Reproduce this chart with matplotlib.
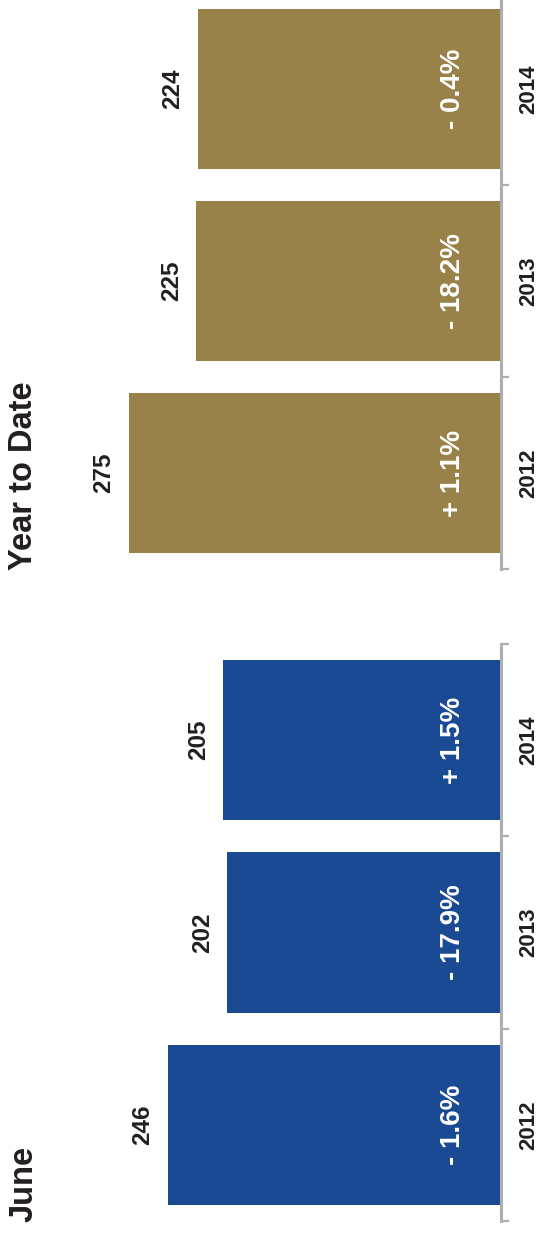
import matplotlib
matplotlib.use('Agg')
import matplotlib.pyplot as plt

# chart data
years = ['2012', '2013', '2014']
june_values = [246, 202, 205]
june_changes = ['- 1.6%', '- 17.9%', '+ 1.5%']
ytd_values = [275, 225, 224]
ytd_changes = ['+ 1.1%', '- 18.2%', '- 0.4%']

BLUE = '#1b4a94'
GOLD = '#98824a'
GRAY = '#aeaeb0'
TEXT = '#231f20'

plt.rcParams['font.family'] = ['Liberation Sans', 'DejaVu Sans']

W, H = 539, 1241
fig = plt.figure(figsize=(W / 100, H / 100), dpi=100)


def panel(bottom_px, top_px, values, changes, color, title):
    # axes placed in pixel units, spine (baseline) at x = 500.7 px
    ax = fig.add_axes([0.0, (H - bottom_px) / H, 500.7 / W, (bottom_px - top_px) / H])
    pos = list(range(len(values)))
    ax.barh(pos, values, height=0.833, color=color)
    ax.set_xlim(370, 0)
    ax.set_ylim(-0.5, len(values) - 0.5)
    for s in ['left', 'top', 'bottom']:
        ax.spines[s].set_visible(False)
    ax.spines['right'].set_color(GRAY)
    ax.spines['right'].set_linewidth(2.2)
    ax.set_xticks([])
    ax.yaxis.tick_right()
    ax.set_yticks([p - 0.5 for p in pos] + [len(values) - 0.5])
    ax.set_yticklabels([])
    ax.tick_params(axis='y', direction='out', length=5.5, width=1.6, color=GRAY)
    ax.patch.set_visible(False)

    for p, v, c, yr in zip(pos, values, changes, years):
        ax.annotate(str(v), xy=(v, p), xytext=(-18, 0), textcoords='offset points',
                    rotation=90, ha='center', va='center', fontsize=17.5,
                    fontweight='bold', color=TEXT)
        ax.annotate(c, xy=(0, p), xytext=(-34.5, 0), textcoords='offset points',
                    rotation=90, ha='center', va='center', fontsize=20,
                    fontweight='bold', color='white')
        ax.annotate(yr, xy=(0, p), xytext=(20.5, 0), textcoords='offset points',
                    rotation=90, ha='center', va='center', fontsize=16,
                    fontweight='bold', color=TEXT)

    fig.text(24 / W, (H - bottom_px - 1) / H, title, rotation=90, ha='center', va='bottom',
             fontsize=23.5, fontweight='bold', color=TEXT)
    return ax


panel(1221, 644, june_values, june_changes, BLUE, 'June')
panel(569, -7, ytd_values, ytd_changes, GOLD, 'Year to Date')

fig.savefig('out.png', dpi=100)
